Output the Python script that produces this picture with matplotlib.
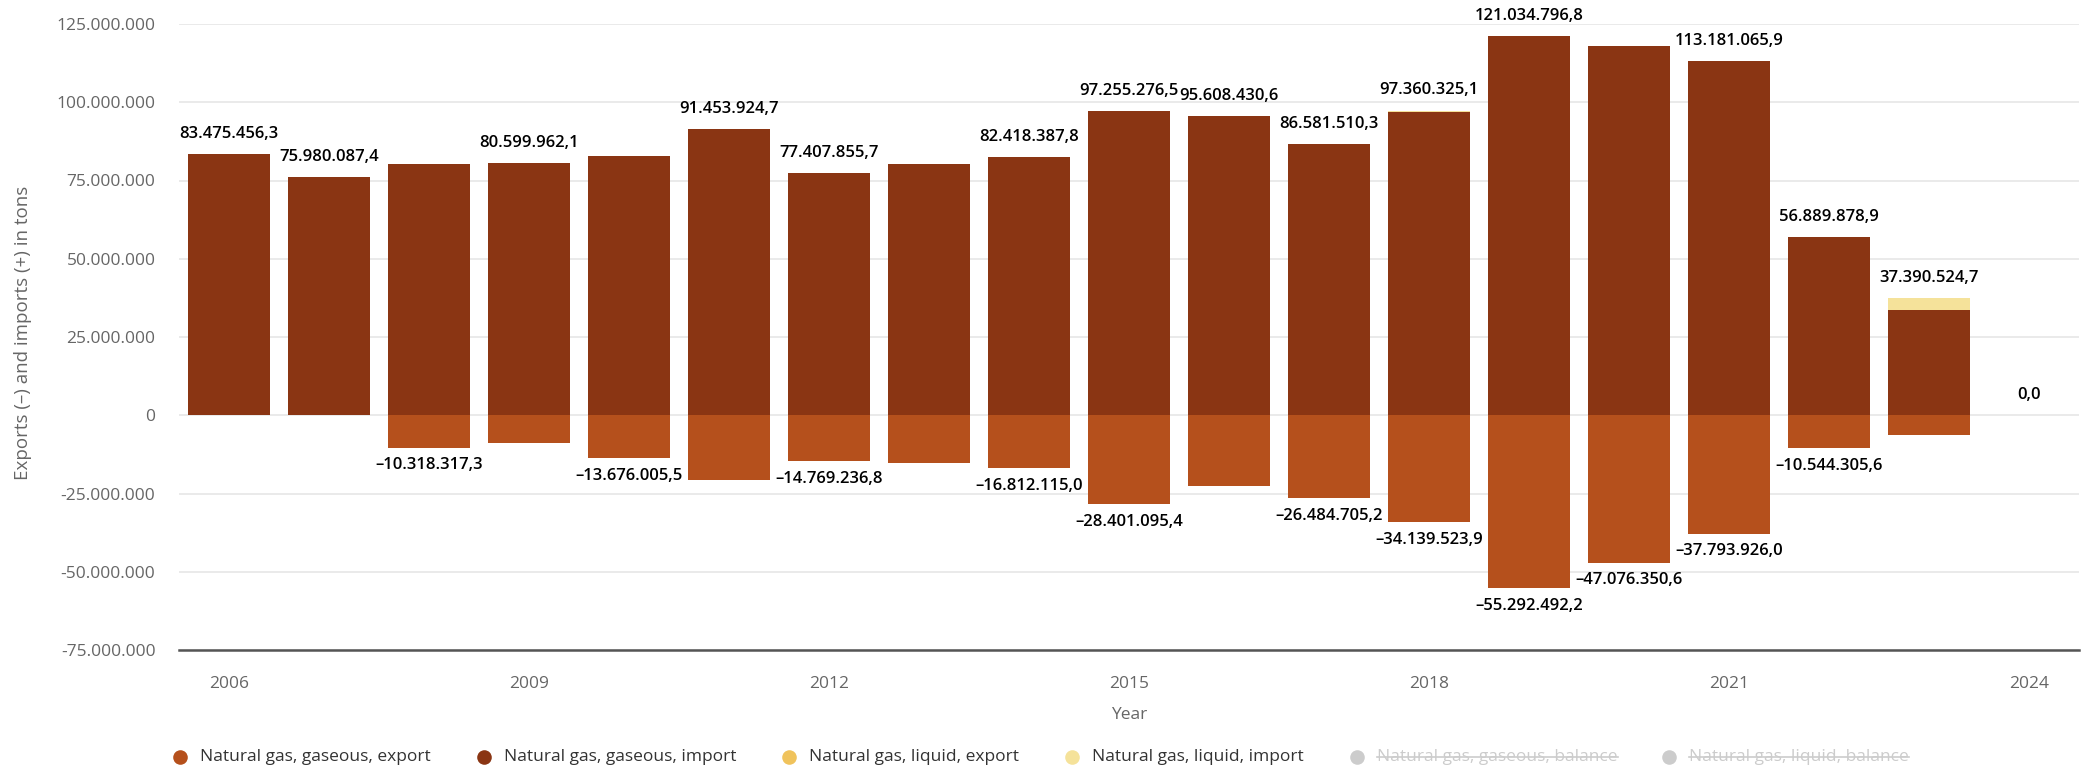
import matplotlib
matplotlib.use("Agg")
import matplotlib.pyplot as plt
from matplotlib.lines import Line2D
import numpy as np

years = list(range(2006, 2025))
gas_import = [83475456.3, 75980087.4, 80400000.0, 80599962.1, 82900000.0, 91453924.7,
              77407855.7, 80200000.0, 82418387.8, 97255276.5, 95608430.6, 86581510.3,
              96860325.1, 121034796.8, 118100000.0, 113181065.9, 56889878.9, 33590524.7, 0.0]
liquid_import = [0, 0, 0, 0, 0, 0, 0, 0, 0, 0, 0, 0, 500000.0, 0, 0, 0, 0, 3800000.0, 0]
gas_export = [0.0, 0.0, -10318317.3, -8900000.0, -13676005.5, -20600000.0, -14769236.8,
              -15200000.0, -16812115.0, -28401095.4, -22700000.0, -26484705.2, -34139523.9,
              -55292492.2, -47076350.6, -37793926.0, -10544305.6, -6400000.0, 0.0]
liquid_export = [0.0] * 19
pos_label_years = [2006, 2007, 2009, 2011, 2012, 2014, 2015, 2016, 2017, 2018, 2019,
                   2021, 2022, 2023, 2024]
neg_label_years = [2008, 2010, 2012, 2014, 2015, 2017, 2018, 2019, 2020, 2021, 2022]
series_names = ["Natural gas, gaseous, export", "Natural gas, gaseous, import",
                "Natural gas, liquid, export", "Natural gas, liquid, import",
                "Natural gas, gaseous, balance", "Natural gas, liquid, balance"]
hidden = [False, False, False, False, True, True]
yticks = [-75e6, -50e6, -25e6, 0, 25e6, 50e6, 75e6, 100e6, 125e6]
xticks = [2006, 2009, 2012, 2015, 2018, 2021, 2024]

C_GEXP = "#b5501c"
C_GIMP = "#8a3513"
C_LEXP = "#f0c35c"
C_LIMP = "#f5e29a"
C_HID = "#cccccc"
colors = [C_GEXP, C_GIMP, C_LEXP, C_LIMP, C_HID, C_HID]

FONT = "Open Sans"
plt.rcParams["font.family"] = [FONT, "DejaVu Sans"]

W, H = 2087, 768
fig = plt.figure(figsize=(W / 100, H / 100), dpi=100)
L, R, T, B = 179, 2079, 24, 650
ax = fig.add_axes([L / W, 1 - B / H, (R - L) / W, (B - T) / H])

x = np.array(years, dtype=float)
gi = np.array(gas_import)
li = np.array(liquid_import)
ge = np.array(gas_export)
le = np.array(liquid_export)
bw = 0.825

ax.bar(x, ge, width=bw, color=C_GEXP, zorder=3)
ax.bar(x, le, width=bw, bottom=ge, color=C_LEXP, zorder=3)
ax.bar(x, gi, width=bw, color=C_GIMP, zorder=3)
ax.bar(x, li, width=bw, bottom=gi, color=C_LIMP, zorder=3)

def fmt(v):
    s = f"{abs(v):,.1f}".replace(",", "X").replace(".", ",").replace("X", ".")
    return ("\u2013" if v < 0 else "") + s

def fmt_tick(v, pos=None):
    s = f"{abs(v):,.0f}".replace(",", ".")
    return ("-" if v < 0 else "") + s

pos_tot = gi + li
neg_tot = ge + le
for i, yr in enumerate(years):
    if yr in pos_label_years:
        ax.annotate(fmt(pos_tot[i]), (yr, pos_tot[i]), xytext=(0, 14.5),
                    textcoords="offset points", ha="center", va="center",
                    fontsize=12, fontweight="semibold", color="#000000", zorder=5)
    if yr in neg_label_years:
        ax.annotate(fmt(neg_tot[i]), (yr, neg_tot[i]), xytext=(0, -12.7),
                    textcoords="offset points", ha="center", va="center",
                    fontsize=12, fontweight="semibold", color="#000000", zorder=5)

ax.set_xlim(2005.5, 2024.5)
ax.set_ylim(-75e6, 125e6)
ax.set_yticks(yticks)
ax.yaxis.set_major_formatter(plt.FuncFormatter(fmt_tick))
ax.set_xticks(xticks)
ax.set_xticklabels([str(v) for v in xticks])
ax.tick_params(axis="y", length=0, pad=17, labelsize=12.5, labelcolor="#666666")
ax.tick_params(axis="x", length=0, pad=19, labelsize=12.5, labelcolor="#666666")
ax.grid(axis="y", color="#e6e6e6", linewidth=1.2, zorder=0)
ax.set_axisbelow(True)
for s in ["top", "right", "left"]:
    ax.spines[s].set_visible(False)
ax.spines["bottom"].set_color("#555555")
ax.spines["bottom"].set_linewidth(1.8)
ax.spines["bottom"].set_zorder(4)

fig.text(23 / W, 1 - 333 / H, "Exports (–) and imports (+) in tons", rotation=90,
         ha="center", va="center", fontsize=13.5, color="#666666")
fig.text(1129 / W, 1 - 715 / H, "Year", ha="center", va="center",
         fontsize=12.5, color="#666666")

# legend
mk_x = [180, 484, 789, 1072, 1357, 1669]
ly = 1 - 757 / H
fig.canvas.draw()
rend = fig.canvas.get_renderer()
for name, c, hx, mx in zip(series_names, colors, hidden, mk_x):
    fig.add_artist(Line2D([mx / W], [ly], marker="o", markersize=10.5, color=c,
                          markeredgewidth=0, linestyle="none", transform=fig.transFigure))
    t = fig.text((mx + 20) / W, ly, name, ha="left", va="center", fontsize=12.5,
                 color=C_HID if hx else "#333333")
    if hx:
        bb = t.get_window_extent(renderer=rend)
        ymid = (bb.y0 + bb.y1) / 2 / H
        fig.add_artist(Line2D([bb.x0 / W, bb.x1 / W], [ymid, ymid], color=C_HID,
                              linewidth=1.2, transform=fig.transFigure))

fig.savefig("out.png", dpi=100)
